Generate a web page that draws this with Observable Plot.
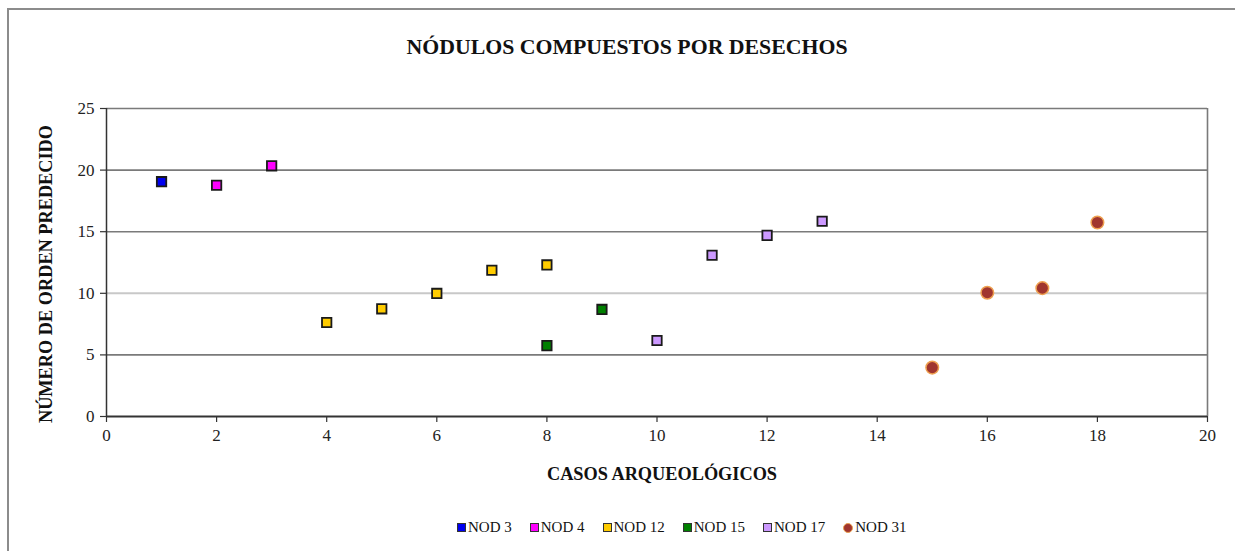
<!DOCTYPE html>
<html>
<head>
<meta charset="utf-8">
<script src="https://cdn.jsdelivr.net/npm/d3@7"></script>
<script src="https://cdn.jsdelivr.net/npm/@observablehq/plot@0.6"></script>
<style>
  html, body { margin: 0; padding: 0; background: #fff; }
  #wrap { position: relative; width: 1235px; height: 551px; overflow: hidden; font-family: "Liberation Serif", "DejaVu Serif", serif; }
  #border { position: absolute; left: 7px; top: 8px; width: 1250px; height: 600px; border: 2px solid #8c8c8c; box-sizing: border-box; }
  #title { position: absolute; left: 627px; top: 47px; transform: translate(-50%, -50%); white-space: nowrap; font-weight: bold; font-size: 21.8px; color: #111; }
  #ylabel { position: absolute; left: 46px; top: 274px; transform: translate(-50%, -50%) rotate(-90deg); white-space: nowrap; font-weight: bold; font-size: 18.3px; color: #111; }
  #xlabel { position: absolute; left: 662px; top: 474px; transform: translate(-50%, -50%); white-space: nowrap; font-weight: bold; font-size: 18.3px; color: #111; }
  #legend { position: absolute; left: 457px; top: 519px; display: flex; gap: 0; font-size: 15px; color: #111; white-space: nowrap; }
  .item { display: flex; align-items: center; margin-right: 18px; }
  .sw { width: 9px; height: 9px; border: 1px solid #333; margin-right: 2px; box-sizing: border-box; }
  .sw.circle { border-radius: 50%; border: 1px solid #e8a050; width: 10px; height: 10px; }
  #chart { position: absolute; left: 0; top: 0; }
</style>
</head>
<body>
<div id="wrap">
  <div id="border"></div>
  <div id="chart"></div>
  <div id="title">NÓDULOS COMPUESTOS POR DESECHOS</div>
  <div id="ylabel">NÚMERO DE ORDEN PREDECIDO</div>
  <div id="xlabel">CASOS ARQUEOLÓGICOS</div>
  <div id="legend"></div>
</div>
<script>
// Series names and colours
const seriesNames = ["NOD 3", "NOD 4", "NOD 12", "NOD 15", "NOD 17", "NOD 31"];
const seriesColors = ["#0000f0", "#ff00ff", "#ffcc00", "#008000", "#cc99ff", "#a0352f"];

// Data
const casos = [1, 2, 3, 4, 5, 6, 7, 8, 8, 9, 10, 11, 12, 13, 15, 16, 17, 18];
const orden = [19.06, 18.77, 20.35, 7.63, 8.74, 9.99, 11.87, 12.3, 5.75, 8.69, 6.17, 13.09, 14.7, 15.85, 3.97, 10.05, 10.42, 15.75];
const grupo = ["NOD 3", "NOD 4", "NOD 4", "NOD 12", "NOD 12", "NOD 12", "NOD 12", "NOD 12",
               "NOD 15", "NOD 15", "NOD 17", "NOD 17", "NOD 17", "NOD 17",
               "NOD 31", "NOD 31", "NOD 31", "NOD 31"];

// Axis ticks
const xTicks = [0, 2, 4, 6, 8, 10, 12, 14, 16, 18, 20];
const yTicks = [0, 5, 10, 15, 20, 25];
const darkGrid = [5, 15, 20, 25];
const lightGrid = [10];

const data = casos.map((c, i) => ({caso: c, orden: orden[i], grupo: grupo[i]}));
const squares = data.filter(d => d.grupo !== "NOD 31");
const circles = data.filter(d => d.grupo === "NOD 31");

const chart = Plot.plot({
  width: 1235,
  height: 551,
  marginLeft: 106,
  marginRight: 28,
  marginTop: 108,
  marginBottom: 135,
  style: { fontFamily: "Liberation Serif, DejaVu Serif, serif", fontSize: "17px", background: "transparent", color: "#222" },
  x: { domain: [0, 20] },
  y: { domain: [0, 25] },
  color: { domain: seriesNames, range: seriesColors },
  marks: [
    Plot.ruleY(darkGrid, { stroke: "#7a7a7a", strokeWidth: 1.6 }),
    Plot.ruleY(lightGrid, { stroke: "#c8c8c8", strokeWidth: 2 }),
    Plot.ruleX([20], { stroke: "#7a7a7a", strokeWidth: 1.6 }),
    Plot.axisX({ ticks: xTicks, tickSize: 6, tickPadding: 6, label: null, stroke: "#333", strokeWidth: 1.2, fill: "#222", fontSize: 17 }),
    Plot.axisY({ ticks: yTicks, tickSize: 6, tickPadding: 6, label: null, stroke: "#333", strokeWidth: 1.2, fill: "#222", fontSize: 17 }),
    Plot.ruleY([0], { stroke: "#333", strokeWidth: 1.8 }),
    Plot.ruleX([0], { stroke: "#333", strokeWidth: 1.5 }),
    Plot.dot(squares, { x: "caso", y: "orden", fill: "grupo", symbol: "square", r: 5.3, stroke: "#1a1a1a", strokeWidth: 1.8 }),
    Plot.dot(circles, { x: "caso", y: "orden", fill: "grupo", symbol: "circle", r: 6.3, stroke: "#eea050", strokeWidth: 1.5 })
  ]
});
document.getElementById("chart").appendChild(chart);

// Legend
const legend = document.getElementById("legend");
seriesNames.forEach((name, i) => {
  const item = document.createElement("div");
  item.className = "item";
  const sw = document.createElement("span");
  sw.className = "sw" + (name === "NOD 31" ? " circle" : "");
  sw.style.background = seriesColors[i];
  const t = document.createElement("span");
  t.textContent = name;
  item.appendChild(sw);
  item.appendChild(t);
  legend.appendChild(item);
});
</script>
</body>
</html>
